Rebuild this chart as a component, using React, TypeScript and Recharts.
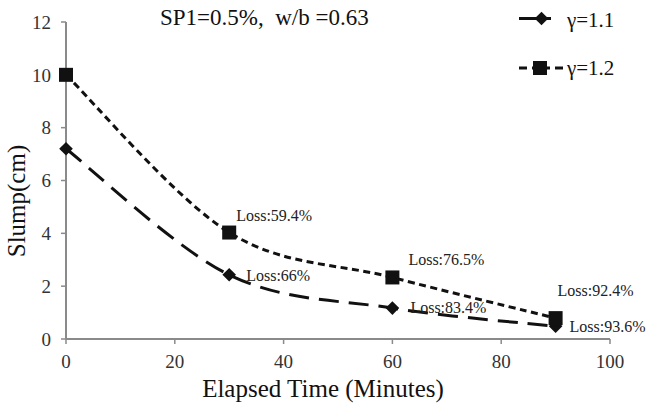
import React from 'react';
import { LineChart, Line, XAxis, YAxis, LabelList } from 'recharts';

const times = [0, 30, 60, 90];
const slumpG11 = [7.2, 2.43, 1.17, 0.48];
const slumpG12 = [10, 4.03, 2.33, 0.79];
const lossG11 = ['', 'Loss:66%', 'Loss:83.4%', 'Loss:93.6%'];
const lossG12 = ['', 'Loss:59.4%', 'Loss:76.5%', 'Loss:92.4%'];
const xTicks = [0, 20, 40, 60, 80, 100];
const yTicks = [0, 2, 4, 6, 8, 10, 12];
const seriesNames = ['γ=1.1', 'γ=1.2'];
const titleText = 'SP1=0.5%,\u00a0\u00a0w/b =0.63';
const xTitle = 'Elapsed Time (Minutes)';
const yTitle = 'Slump(cm)';

const data = times.map((t, i) => ({
  t,
  g11: slumpG11[i],
  g12: slumpG12[i],
  l11: lossG11[i],
  l12: lossG12[i],
}));

const FONT = 'Liberation Serif';
const AXIS = '#8a8a8a';
const INK = '#111';
const DASH11 = '20 10';
const DASH12 = '7 4.5';

const off11 = [{ dx: 0, dy: 0 }, { dx: 17, dy: 6 }, { dx: 18, dy: 5 }, { dx: 14, dy: 6 }];
const off12 = [{ dx: 0, dy: 0 }, { dx: 7, dy: -12 }, { dx: 16, dy: -12 }, { dx: 2, dy: -22 }];

const excelCurve: any = (context: any) => {
  let pts: [number, number][] = [];
  return {
    areaStart() {},
    areaEnd() {},
    lineStart() {
      pts = [];
    },
    point(x: number, y: number) {
      pts.push([+x, +y]);
    },
    lineEnd() {
      const n = pts.length;
      if (!n) return;
      context.moveTo(pts[0][0], pts[0][1]);
      for (let i = 0; i < n - 1; i++) {
        const p0 = pts[Math.max(0, i - 1)];
        const p1 = pts[i];
        const p2 = pts[i + 1];
        const p3 = pts[Math.min(n - 1, i + 2)];
        context.bezierCurveTo(
          p1[0] + (p2[0] - p0[0]) / 6,
          p1[1] + (p2[1] - p0[1]) / 6,
          p2[0] - (p3[0] - p1[0]) / 6,
          p2[1] - (p3[1] - p1[1]) / 6,
          p2[0],
          p2[1]
        );
      }
    },
  };
};

const Diamond = (props: any) => {
  const { cx, cy } = props;
  if (cx == null || cy == null) return null;
  const r = 6.8;
  return <path d={`M${cx},${cy - r}L${cx + r},${cy}L${cx},${cy + r}L${cx - r},${cy}Z`} fill={INK} />;
};

const Square = (props: any) => {
  const { cx, cy } = props;
  if (cx == null || cy == null) return null;
  const s = 7;
  return <rect x={cx - s} y={cy - s} width={2 * s} height={2 * s} fill={INK} />;
};

const makeLabel = (offs: { dx: number; dy: number }[]) => (props: any) => {
  const { x, y, value, index } = props;
  if (!value) return null;
  const o = offs[index] || { dx: 0, dy: 0 };
  return (
    <text className="serif" fontFamily={FONT} x={x + o.dx} y={y + o.dy} fontSize={16} fill="#222">
      {value}
    </text>
  );
};

const XTick = (props: any) => {
  const { x, y, payload } = props;
  return (
    <text className="serif" fontFamily={FONT} x={x} y={y} dy="0.71em" textAnchor="middle" fontSize={19} fill="#333">
      {payload.value}
    </text>
  );
};

const YTick = (props: any) => {
  const { x, y, payload } = props;
  return (
    <text className="serif" fontFamily={FONT} x={x} y={y} dy="0.355em" textAnchor="end" fontSize={19} fill="#333">
      {payload.value}
    </text>
  );
};

export default function App() {
  return (
    <div style={{ position: 'absolute', left: 0, top: 0, width: 648, height: 408, background: '#fff' }}>
      <style>{`.serif { font-family: 'Liberation Serif', 'Tinos', 'Times New Roman', serif; }`}</style>
      <LineChart width={648} height={408} data={data} margin={{ top: 22, right: 38, bottom: 0, left: 6 }}>
        <XAxis
          dataKey="t"
          type="number"
          domain={[0, 100]}
          ticks={xTicks}
          height={69}
          tickSize={5}
          tickMargin={11}
          axisLine={{ stroke: AXIS, strokeWidth: 2 }}
          tickLine={{ stroke: AXIS, strokeWidth: 1.5 }}
          tick={<XTick />}
        />
        <YAxis
          type="number"
          domain={[0, 12]}
          ticks={yTicks}
          width={60}
          tickSize={5}
          tickMargin={10}
          axisLine={{ stroke: AXIS, strokeWidth: 2 }}
          tickLine={{ stroke: AXIS, strokeWidth: 1.5 }}
          tick={<YTick />}
        />
        <Line
          type={excelCurve}
          dataKey="g11"
          name={seriesNames[0]}
          stroke={INK}
          strokeWidth={3}
          strokeDasharray={DASH11}
          dot={<Diamond />}
          activeDot={false}
          isAnimationActive={false}
        >
          <LabelList dataKey="l11" content={makeLabel(off11)} />
        </Line>
        <Line
          type={excelCurve}
          dataKey="g12"
          name={seriesNames[1]}
          stroke={INK}
          strokeWidth={3}
          strokeDasharray={DASH12}
          dot={<Square />}
          activeDot={false}
          isAnimationActive={false}
        >
          <LabelList dataKey="l12" content={makeLabel(off12)} />
        </Line>
        <text className="serif" fontFamily={FONT} x={160} y={25} fontSize={23} fill={INK}>
          {titleText}
        </text>
        <text className="serif" fontFamily={FONT} x={323} y={397} textAnchor="middle" fontSize={25} fill={INK}>
          {xTitle}
        </text>
        <text
          className="serif"
          fontFamily={FONT}
          transform="translate(25,201) rotate(-90)"
          textAnchor="middle"
          fontSize={25}
          fill={INK}
        >
          {yTitle}
        </text>
        <line x1={519} y1={18.5} x2={563} y2={18.5} stroke={INK} strokeWidth={3} strokeDasharray="18 4 10" />
        <Diamond cx={541.5} cy={18.5} />
        <text className="serif" fontFamily={FONT} x={567} y={27} fontSize={21} fill={INK}>
          {seriesNames[0]}
        </text>
        <line x1={519} y1={68} x2={563} y2={68} stroke={INK} strokeWidth={3} strokeDasharray="8 5 18 5 10" />
        <Square cx={540} cy={68} />
        <text className="serif" fontFamily={FONT} x={567} y={75} fontSize={21} fill={INK}>
          {seriesNames[1]}
        </text>
      </LineChart>
    </div>
  );
}
